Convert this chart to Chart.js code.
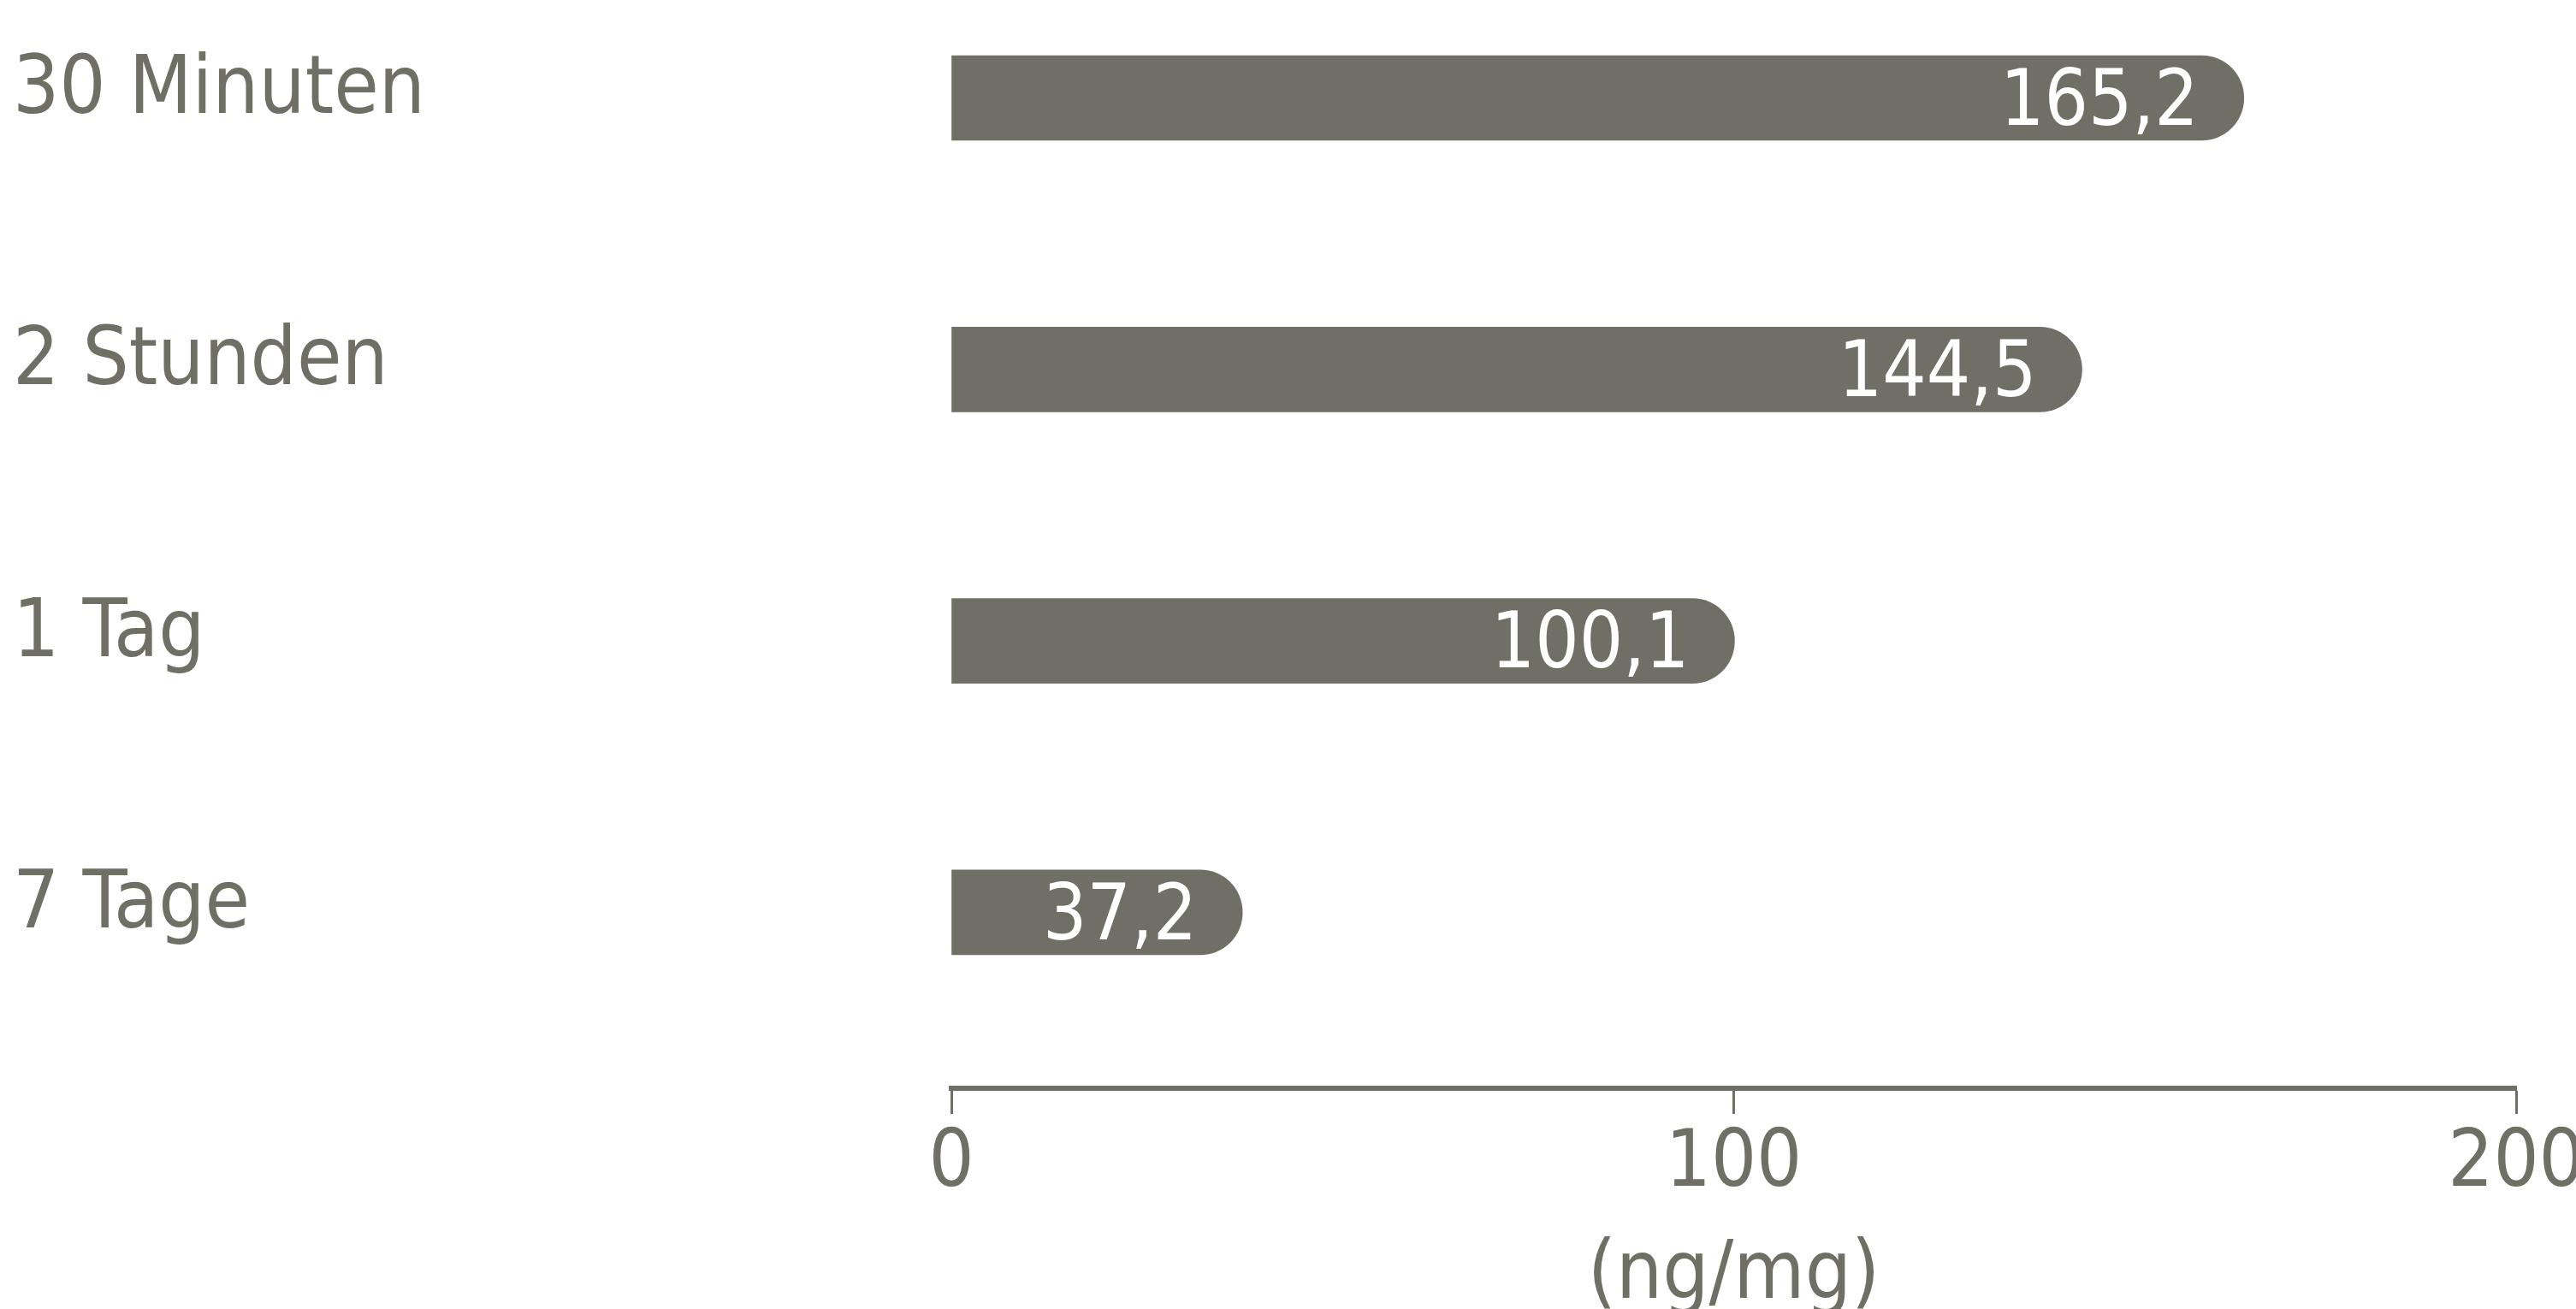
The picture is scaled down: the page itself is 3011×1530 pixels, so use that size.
<!DOCTYPE html>
<html>
<head>
<meta charset="utf-8">
<script src="https://cdn.jsdelivr.net/npm/chart.js@4.4.0/dist/chart.umd.min.js"></script>
<style>
  html, body { margin: 0; padding: 0; background: #fff; }
</style>
</head>
<body>
<canvas id="grafico" width="3011" height="1530"></canvas>
<script>
const kategorien = ['30 Minuten', '2 Stunden', '1 Tag', '7 Tage'];
const werte = [165.2, 144.5, 100.1, 37.2];
const achsenTicks = [0, 100, 200];
const einheit = '(ng/mg)';

const grau = '#6f6f65';
const schrift = "'DejaVu Sans Condensed', 'Liberation Sans Narrow', 'Liberation Sans', sans-serif";

// Dezimalkomma
function formatWert(v) {
    return v.toFixed(1).replace('.', ',');
}

// Werte weiss in den Balken
const wertePlugin = {
    id: 'wertLabels',
    afterDatasetsDraw(chart) {
        const ctx = chart.ctx;
        const meta = chart.getDatasetMeta(0);
        ctx.save();
        ctx.fillStyle = '#ffffff';
        ctx.font = '90px ' + schrift;
        ctx.textAlign = 'right';
        ctx.textBaseline = 'middle';
        meta.data.forEach(function (bar, i) {
            ctx.fillText(formatWert(werte[i]), bar.x - 53, bar.y + 8);
        });
        ctx.restore();
    }
};

const ctx1 = document.getElementById('grafico');

new Chart(ctx1, {
    type: 'bar',
    data: {
        datasets: [{
            data: werte.map(function (w, i) { return { x: w, y: i }; }),
            backgroundColor: grau,
            borderRadius: 50,
            borderSkipped: 'start',
            barThickness: 99
        }]
    },
    options: {
        indexAxis: 'y',
        responsive: false,
        animation: false,
        devicePixelRatio: 1,
        layout: {
            padding: { left: 15, right: 70, top: 0, bottom: 0 }
        },
        plugins: {
            legend: { display: false },
            tooltip: { enabled: false }
        },
        scales: {
            y: {
                type: 'linear',
                reverse: true,
                offset: false,
                min: -0.361,
                max: 3.648,
                grid: { display: false, offset: false },
                border: { display: false },
                ticks: {
                    stepSize: 1,
                    includeBounds: false,
                    crossAlign: 'far',
                    labelOffset: -7,
                    color: grau,
                    font: { family: schrift, size: 95 },
                    callback: function (v) {
                        return kategorien[Math.round(v)] || '';
                    }
                },
                afterFit: function (axis) {
                    axis.width = 1097;
                    axis.paddingTop = 0;
                    axis.paddingBottom = 0;
                }
            },
            x: {
                type: 'linear',
                position: 'bottom',
                min: 0,
                max: 200,
                grid: {
                    drawOnChartArea: false,
                    drawTicks: true,
                    tickLength: 30,
                    tickWidth: 3,
                    tickColor: grau,
                    color: grau
                },
                border: { display: true, color: grau, width: 6 },
                ticks: {
                    color: grau,
                    padding: 4,
                    font: { family: schrift, size: 93 }
                },
                afterBuildTicks: function (axis) {
                    axis.ticks = achsenTicks.map(function (v) { return { value: v }; });
                },
                title: {
                    display: true,
                    text: einheit,
                    color: grau,
                    font: { family: schrift, size: 95 },
                    padding: { top: 0, bottom: -19 }
                },
                afterFit: function (axis) {
                    axis.height = 258;
                    axis.paddingLeft = 0;
                    axis.paddingRight = 0;
                }
            }
        }
    },
    plugins: [wertePlugin]
});
</script>
</body>
</html>
